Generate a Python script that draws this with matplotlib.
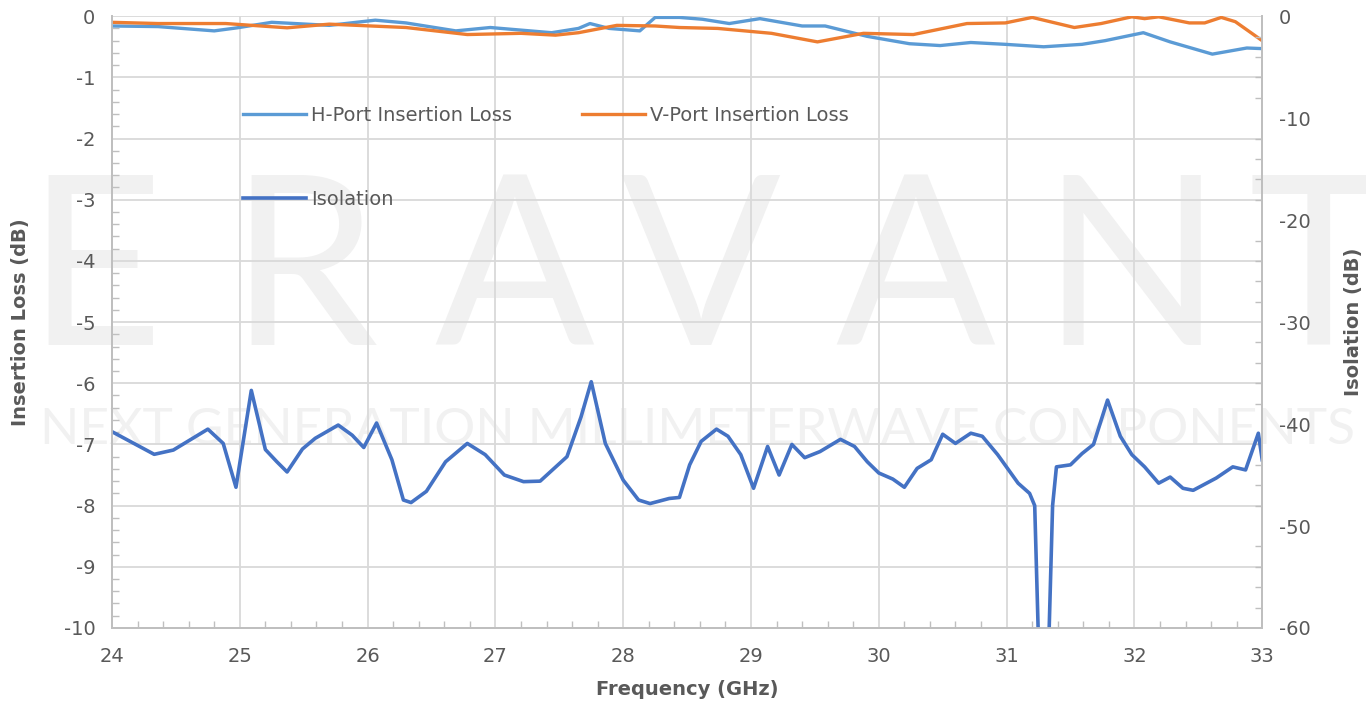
import matplotlib
matplotlib.use("Agg")
import matplotlib.pyplot as plt
from matplotlib.ticker import MultipleLocator

plt.rcParams['axes.unicode_minus'] = False

# H-port insertion loss (dB)
h_freq = [24.0, 24.36, 24.80, 24.98, 25.25, 25.70, 26.06, 26.30, 26.69, 26.96,
          27.44, 27.65, 27.74, 27.89, 28.13, 28.25, 28.44, 28.62, 28.83, 29.07,
          29.40, 29.58, 29.91, 30.24, 30.48, 30.72, 30.99, 31.29, 31.59, 31.77,
          32.07, 32.28, 32.61, 32.88, 33.0]
h_loss = [-0.16, -0.17, -0.24, -0.19, -0.10, -0.15, -0.065, -0.11, -0.24, -0.185,
          -0.27, -0.20, -0.12, -0.20, -0.24, -0.02, -0.02, -0.05, -0.12, -0.04,
          -0.16, -0.16, -0.33, -0.45, -0.48, -0.43, -0.46, -0.50, -0.46, -0.40,
          -0.27, -0.42, -0.62, -0.52, -0.53]

# V-port insertion loss (dB)
v_freq = [24.0, 24.36, 24.89, 25.37, 25.70, 26.30, 26.78, 27.20, 27.47, 27.65,
          27.95, 28.25, 28.44, 28.74, 29.16, 29.52, 29.88, 30.27, 30.69, 30.99,
          31.20, 31.53, 31.74, 31.98, 32.08, 32.19, 32.43, 32.55, 32.68, 32.79, 33.0]
v_loss = [-0.10, -0.12, -0.12, -0.19, -0.13, -0.185, -0.30, -0.28, -0.31, -0.27,
          -0.15, -0.16, -0.185, -0.20, -0.28, -0.42, -0.28, -0.30, -0.12, -0.11,
          -0.02, -0.185, -0.12, -0.01, -0.04, -0.01, -0.11, -0.11, -0.02, -0.09, -0.40]

# Isolation (dB), right axis
iso_freq = [24.0, 24.33, 24.48, 24.75, 24.87, 24.97, 25.09, 25.20, 25.29, 25.37,
            25.49, 25.59, 25.77, 25.88, 25.97, 26.07, 26.19, 26.28, 26.34, 26.46,
            26.61, 26.78, 26.92, 27.07, 27.22, 27.35, 27.49, 27.56, 27.67, 27.75,
            27.86, 28.0, 28.12, 28.21, 28.36, 28.44, 28.52, 28.61, 28.73, 28.82,
            28.92, 29.02, 29.13, 29.22, 29.32, 29.42, 29.54, 29.70, 29.81, 29.91,
            30.0, 30.11, 30.20, 30.30, 30.41, 30.50, 30.60, 30.72, 30.81, 30.93,
            31.09, 31.18, 31.22, 31.26, 31.32, 31.36, 31.39, 31.50, 31.59, 31.68,
            31.79, 31.89, 31.98, 32.08, 32.19, 32.28, 32.38, 32.46, 32.64, 32.77,
            32.87, 32.97, 33.0]
iso = [-40.75, -42.97, -42.55, -40.5, -41.9, -46.2, -36.7, -42.5, -43.7, -44.7,
       -42.45, -41.4, -40.1, -41.1, -42.3, -39.9, -43.5, -47.45, -47.7, -46.6,
       -43.7, -41.9, -43.0, -45.0, -45.65, -45.6, -44.0, -43.2, -39.3, -35.85,
       -41.9, -45.5, -47.45, -47.8, -47.3, -47.2, -44.0, -41.7, -40.5, -41.2,
       -43.0, -46.3, -42.2, -45.0, -42.0, -43.3, -42.7, -41.5, -42.2, -43.7,
       -44.8, -45.4, -46.2, -44.35, -43.5, -41.0, -41.9, -40.9, -41.2, -43.0,
       -45.8, -46.8, -48.0, -66.0, -66.0, -48.0, -44.2, -44.0, -42.9, -42.0,
       -37.65, -41.2, -43.0, -44.2, -45.8, -45.2, -46.3, -46.5, -45.3, -44.2,
       -44.5, -40.9, -43.5]

TXT = '#595959'
GRID = '#d9d9d9'
WM = '#f1f1f1'

fig = plt.figure(figsize=(13.66, 7.04), dpi=100)
ax = fig.add_axes([0.082, 0.108, 0.842, 0.869])
ax2 = ax.twinx()

# watermark (behind grid and curves)
for letter, xp in zip("ERAVANT", [95, 303, 514, 700, 915, 1132, 1318]):
    ax.text(xp / 1366, 0.605, letter, color=WM, zorder=0.3, fontsize=170,
            family='Lato', ha='center', va='center',
            transform=fig.transFigure, clip_on=False)
ax.text(40 / 1366, 1 - 430 / 704, "NEXT GENERATION MILLIMETERWAVE COMPONENTS",
        color=WM, zorder=0.3, fontsize=37, family='Lato',
        ha='left', va='center', transform=fig.transFigure, clip_on=False)

l1, = ax.plot(h_freq, h_loss, color='#5B9BD5', lw=2.4, label='H-Port Insertion Loss',
              zorder=3, solid_joinstyle='round')
l2, = ax.plot(v_freq, v_loss, color='#ED7D31', lw=2.4, label='V-Port Insertion Loss',
              zorder=3, solid_joinstyle='round')
l3, = ax2.plot(iso_freq, iso, color='#4472C4', lw=2.6, label='Isolation',
               solid_joinstyle='round')

ax.set_xlim(24, 33)
ax.set_ylim(-10, 0)
ax2.set_ylim(-60, 0)
ax.xaxis.set_major_locator(MultipleLocator(1))
ax.xaxis.set_minor_locator(MultipleLocator(0.2))
ax.yaxis.set_major_locator(MultipleLocator(1))
ax.yaxis.set_minor_locator(MultipleLocator(0.2))
ax2.yaxis.set_major_locator(MultipleLocator(10))
ax2.yaxis.set_minor_locator(MultipleLocator(2))

ax.grid(True, which='major', color=GRID, lw=1.3)
ax.set_axisbelow(True)
for a in (ax, ax2):
    for s in a.spines.values():
        s.set_color('#bfbfbf')
        s.set_linewidth(1.3)
    a.spines['top'].set_visible(False)
    a.tick_params(which='both', direction='in', colors='#bfbfbf', labelcolor=TXT,
                  labelsize=14)
    a.tick_params(which='major', length=0)
    a.tick_params(which='minor', length=5, width=1)
ax.tick_params(axis='x', which='major', pad=14)
ax.tick_params(axis='y', which='major', pad=12)
ax2.tick_params(axis='y', which='major', pad=12)

ax.set_xlabel('Frequency (GHz)', fontsize=14, fontweight='bold', color=TXT, labelpad=10)
ax.set_ylabel('Insertion Loss (dB)', fontsize=14, fontweight='bold', color=TXT, labelpad=24)
ax2.set_ylabel('Isolation (dB)', fontsize=14, fontweight='bold', color=TXT, labelpad=24)

leg = ax2.legend(handles=[l1, l3, l2], ncol=2, frameon=False, fontsize=14,
                 loc='upper left', bbox_to_anchor=(0.099, 0.882),
                 labelspacing=3.35, columnspacing=3.6, handlelength=3.2,
                 handletextpad=0.3)
for t in leg.get_texts():
    t.set_color(TXT)

fig.savefig('out.png', dpi=100)
